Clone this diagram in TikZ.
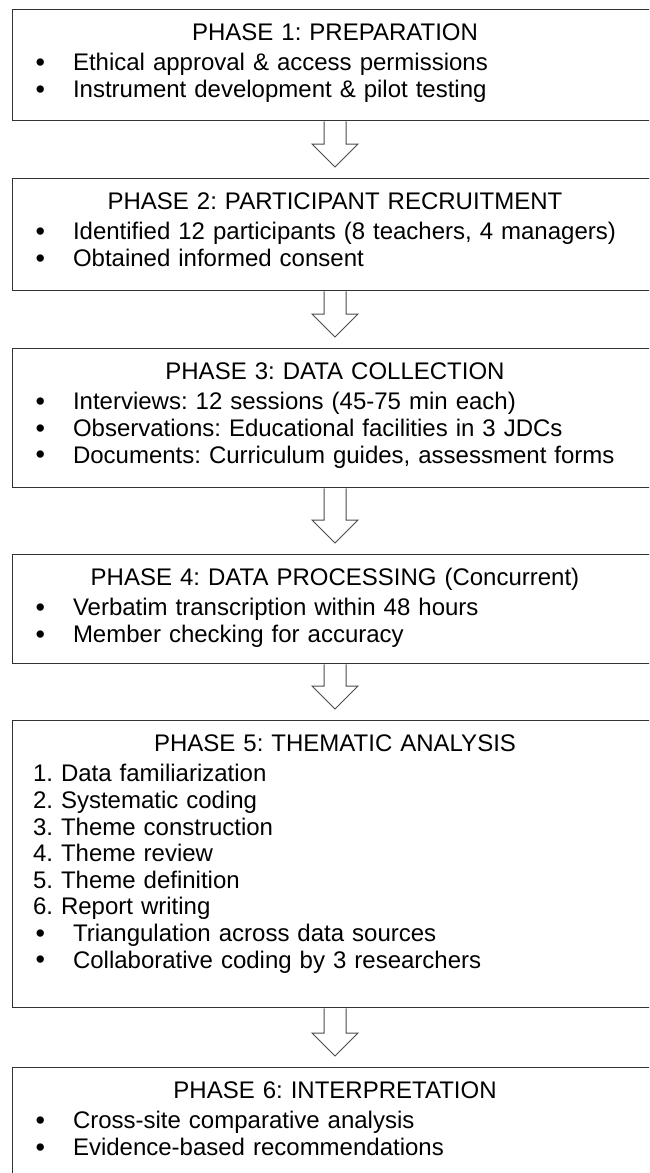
\documentclass[tikz,border=0pt]{standalone}
\usepackage{fontspec}
\setmainfont{Liberation Sans}
\usetikzlibrary{positioning, calc}
\setlength{\parindent}{0pt}
\frenchspacing
\newcommand{\phbul}{\makebox[40pt][l]{\hspace{2.5pt}\raisebox{-0.8pt}{\fontsize{27}{26.6}\selectfont\textbullet}}}
\tikzstyle{phase} = [rectangle, draw=black!80, line width=1.3pt, minimum width=645pt,
inner sep=0pt]
\tikzstyle{phtext} = [text width=604pt, inner sep=0pt, font=\fontsize{24}{26.6}\selectfont]
\tikzstyle{flow} = [draw=black!70, line width=1pt, fill=white, to path={
($(\tikztostart.south)+(-11,0)$) -- ($(\tikztotarget.north)+(-11,34)$) -- ++(-12,0)
-- ($(\tikztotarget.north)+(0,11)$) -- ++(23,23) -- ++(-12,0)
-- ($(\tikztostart.south)+(11,0)$)}]

\begin{document}
\begin{tikzpicture}[x=1pt, y=1pt]
    \useasboundingbox (0,0) rectangle (649,-1173);
    \clip (0,0) rectangle (649,-1173);

    \node (p1) [phase, anchor=north, minimum height=111pt] at (335,-9) {};
    \node (p2) [phase, below=56.7pt of p1, minimum height=112pt] {};
    \node (p3) [phase, below=56.7pt of p2, minimum height=139pt] {};
    \node (p4) [phase, below=65.7pt of p3, minimum height=109pt] {};
    \node (p5) [phase, below=55.7pt of p4, minimum height=287pt] {};
    \node (p6) [phase, below=58.7pt of p5, minimum height=140pt] {};

    \node (t1) [phtext, below=13pt of p1.north] {{\centering\strut PHASE 1: PREPARATION\par}\vspace{3.4pt}
        \phbul Ethical approval \& access permissions\par
        \phbul Instrument development \& pilot testing};
    \node (t2) [phtext, below=13pt of p2.north] {{\centering\strut PHASE 2: PARTICIPANT RECRUITMENT\par}\vspace{3.4pt}
        \phbul Identified 12 participants (8 teachers, 4 managers)\par
        \phbul Obtained informed consent};
    \node (t3) [phtext, below=13pt of p3.north] {{\centering\strut PHASE 3: DATA COLLECTION\par}\vspace{3.4pt}
        \phbul Interviews: 12 sessions (45-75 min each)\par
        \phbul Observations: Educational facilities in 3 JDCs\par
        \phbul Documents: Curriculum guides, assessment forms};
    \node (t4) [phtext, below=13pt of p4.north] {{\centering\strut PHASE 4: DATA PROCESSING (Concurrent)\par}\vspace{3.4pt}
        \phbul Verbatim transcription within 48 hours\par
        \phbul Member checking for accuracy};
    \node (t5) [phtext, below=13pt of p5.north] {{\centering\strut PHASE 5: THEMATIC ANALYSIS\par}\vspace{3.4pt}
        1. Data familiarization\par
        2. Systematic coding\par
        3. Theme construction\par
        4. Theme review\par
        5. Theme definition\par
        6. Report writing\par
        \phbul Triangulation across data sources\par
        \phbul Collaborative coding by 3 researchers};
    \node (t6) [phtext, below=13pt of p6.north] {{\centering\strut PHASE 6: INTERPRETATION\par}\vspace{3.4pt}
        \phbul Cross-site comparative analysis\par
        \phbul Evidence-based recommendations};

    \draw[flow] (p1) to (p2);
    \draw[flow] (p2) to (p3);
    \draw[flow] (p3) to (p4);
    \draw[flow] (p4) to (p5);
    \draw[flow] (p5) to (p6);

\end{tikzpicture}
\end{document}
